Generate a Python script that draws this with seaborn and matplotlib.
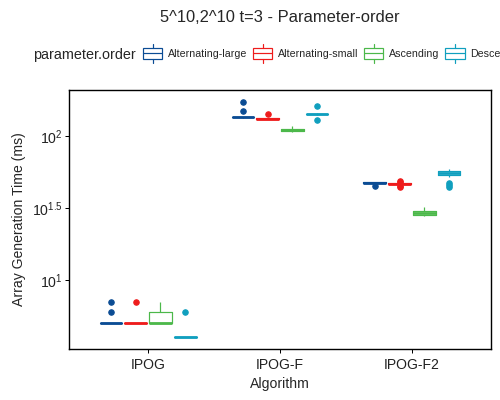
import matplotlib
matplotlib.use('Agg')
import matplotlib.pyplot as plt
import seaborn as sns
import pandas as pd
import numpy as np
from matplotlib.legend_handler import HandlerBase
from matplotlib.patches import Rectangle, Patch
from matplotlib.lines import Line2D
from matplotlib.ticker import NullLocator


algorithms = ['IPOG', 'IPOG-F', 'IPOG-F2']
orders = ['Alternating-large', 'Alternating-small', 'Ascending', 'Descending']
colors = ['#0B4C94', '#EE1C1C', '#4CB84A', '#109FBE']

# array generation times (ms) per run
ipog_times = {
    'Alternating-large': [5, 5, 5, 5, 5, 5, 5, 5, 6, 7],
    'Alternating-small': [5, 5, 5, 5, 5, 5, 5, 5, 5, 7],
    'Ascending': [5, 5, 5, 5, 5, 5, 6, 6, 6, 7],
    'Descending': [4, 4, 4, 4, 4, 4, 4, 4, 4, 6],
}
ipogf_times = {
    'Alternating-large': [134, 135, 135, 135, 135, 135, 136, 136, 149, 173],
    'Alternating-small': [131, 131, 132, 132, 132, 132, 132, 133, 133, 143],
    'Ascending': [107, 108, 109, 110, 111, 111, 112, 113, 114, 117],
    'Descending': [130, 141, 142, 142, 142, 143, 143, 143, 144, 161],
}
ipogf2_times = {
    'Alternating-large': [45, 47, 47.5, 47.5, 47.5, 47.5, 48, 48, 48, 48],
    'Alternating-small': [44.5, 45, 46.5, 46.5, 46.7, 46.7, 46.8, 46.8, 48, 48.5],
    'Ascending': [28, 28, 28.1, 28.5, 29.2, 29.4, 30, 30.5, 31, 32],
    'Descending': [44.5, 45.5, 47, 52, 54, 54, 55, 55.5, 56, 56, 56.5, 57.5, 57.7, 58, 58.5, 59],
}

rows = []
for alg, times in zip(algorithms, [ipog_times, ipogf_times, ipogf2_times]):
    for order in orders:
        for t in times[order]:
            rows.append({'Algorithm': alg, 'parameter.order': order, 'time': t})
df = pd.DataFrame(rows)


class BoxKey(HandlerBase):
    def create_artists(self, legend, orig_handle, xdescent, ydescent,
                       width, height, fontsize, trans):
        c = orig_handle.get_edgecolor()
        x0 = -xdescent
        cx = x0 + width / 2
        cy = -ydescent + height / 2
        bh = 10.5
        wh = 4.5
        rect = Rectangle((x0, cy - bh / 2), width, bh, fill=False, ec=c, lw=1.2, transform=trans)
        med = Line2D([x0, x0 + width], [cy, cy], color=c, lw=1.2, transform=trans)
        wt = Line2D([cx, cx], [cy + bh / 2, cy + bh / 2 + wh], color=c, lw=1.2, transform=trans)
        wb = Line2D([cx, cx], [cy - bh / 2, cy - bh / 2 - wh], color=c, lw=1.2, transform=trans)
        return [rect, med, wt, wb]


sns.set_style('white')
plt.rcParams['font.family'] = ['Liberation Sans', 'DejaVu Sans']
plt.rcParams['mathtext.fontset'] = 'custom'
plt.rcParams['mathtext.rm'] = 'Liberation Sans'
plt.rcParams['mathtext.it'] = 'Liberation Sans:italic'

fig = plt.figure(figsize=(500 / 72, 400 / 72), dpi=72)
ax = fig.add_axes([69 / 500, 1 - 349 / 400, 422 / 500, 259 / 400])

sns.boxplot(data=df, x='Algorithm', y='time', hue='parameter.order',
            order=algorithms, hue_order=orders, palette=colors,
            fill=False, width=0.75, gap=0.08, log_scale=True,
            showcaps=False, linewidth=1.2,
            flierprops=dict(marker='o', markersize=5.5),
            medianprops=dict(linewidth=2.8),
            legend=False, ax=ax)

for ln in ax.lines:
    if ln.get_marker() == 'o':
        ln.set_markerfacecolor(ln.get_markeredgecolor())

lo = np.log10(df['time'].min())
hi = np.log10(df['time'].max())
pad = 0.05 * (hi - lo)
ax.set_ylim(10 ** (lo - pad), 10 ** (hi + pad))
ax.set_xlim(-0.6, 2.6)

ax.set_yticks([10, 10 ** 1.5, 100])
ax.set_yticklabels([r'$\mathregular{10^{1}}$', r'$\mathregular{10^{1.5}}$', r'$\mathregular{10^{2}}$'])
ax.yaxis.set_minor_locator(NullLocator())

ax.tick_params(axis='both', which='major', length=4, width=1, color='black',
               labelsize=14, labelcolor='#222222', direction='out', pad=2)
ax.tick_params(axis='x', pad=5)
ax.tick_params(left=True, bottom=True)
for s in ax.spines.values():
    s.set_color('black')
    s.set_linewidth(1.4)

ax.set_xlabel('Algorithm', fontsize=14, labelpad=5)
ax.set_ylabel('Array Generation Time (ms)', fontsize=14, labelpad=6)

fig.text(280 / 500, 1 - 22 / 400, '5^10,2^10 t=3 - Parameter-order',
         ha='center', va='baseline', fontsize=16.5)
fig.text(33 / 500, 1 - 59.5 / 400, 'parameter.order', ha='left', va='baseline', fontsize=14.4)

handles = [Patch(edgecolor=c, facecolor='none', label=o) for c, o in zip(colors, orders)]
fig.legend(handles=handles, loc='center left', bbox_to_anchor=(143 / 500, 1 - 54 / 400),
           ncol=4, frameon=False, fontsize=10.6, handler_map={Patch: BoxKey()},
           handlelength=1.8, handletextpad=0.55, columnspacing=0.55,
           borderpad=0, borderaxespad=0)

fig.savefig('out.png', dpi=72)
